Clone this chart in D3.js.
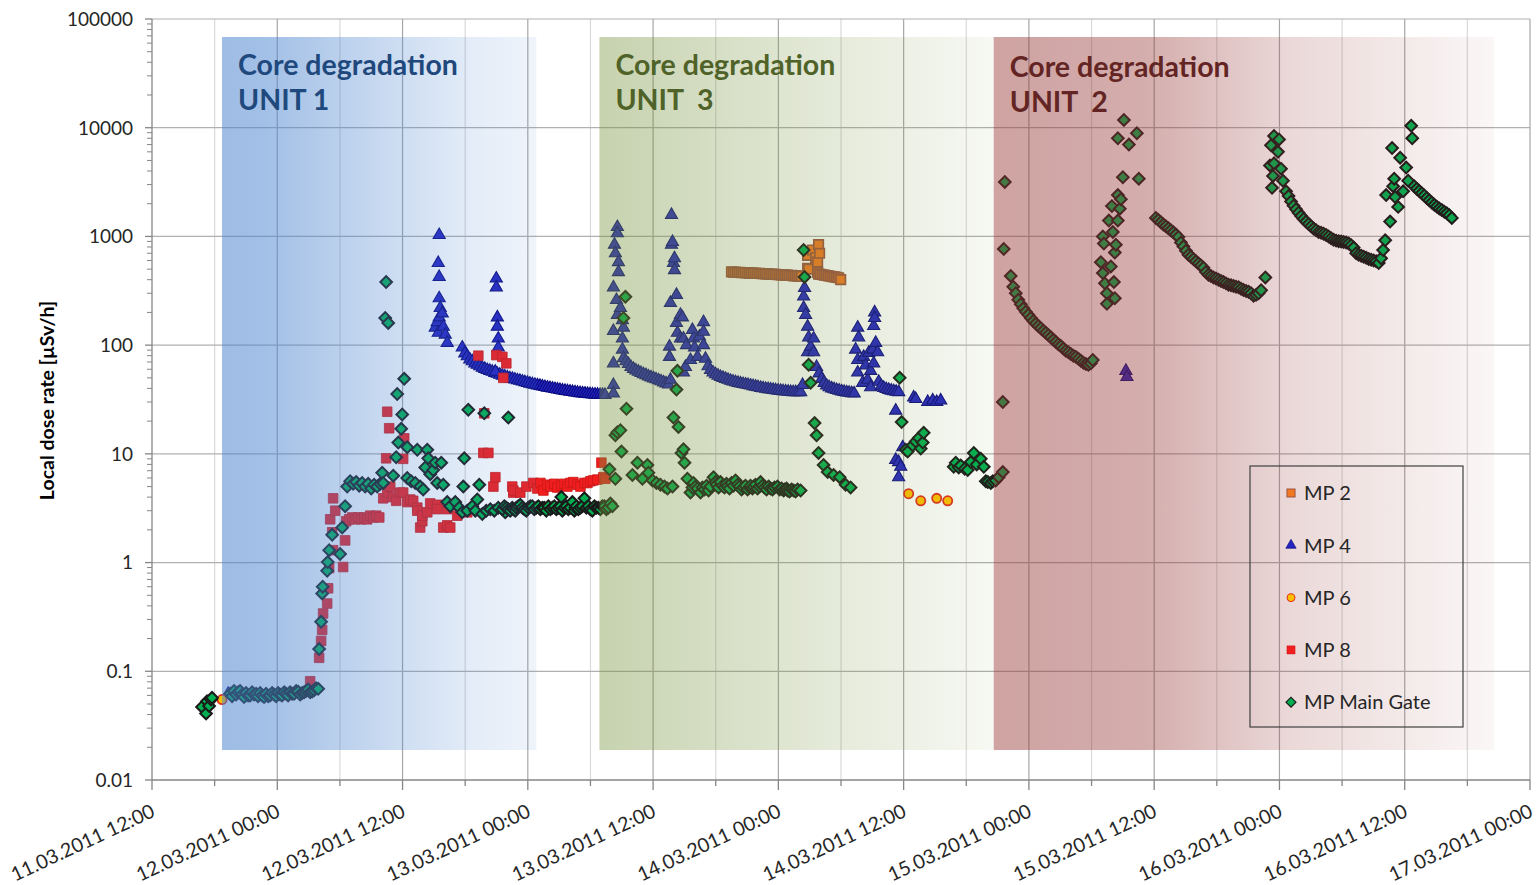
<!DOCTYPE html>
<html>
<head>
<meta charset="utf-8">
<script src="https://cdn.jsdelivr.net/npm/d3@7"></script>
<style>
  html, body { margin: 0; padding: 0; background: #ffffff; }
  svg { display: block; font-family: Lato, "Open Sans", sans-serif; }
</style>
</head>
<body>
<svg id="chart" width="1538" height="885"></svg>
<script>
// ---- Data: [hours after 11.03.2011 12:00 UTC, local dose rate in µSv/h] ----
const mp2 = [
  [55.51,472],[55.70,468],[55.89,470],[56.09,466],[56.28,468],[56.47,464],[56.66,466],[56.85,462],
  [57.05,464],[57.24,460],[57.43,462],[57.62,458],[57.81,460],[58.00,456],[58.20,458],[58.39,454],
  [58.58,455],[58.77,451],[58.96,453],[59.16,449],[59.35,450],[59.54,447],[59.73,448],[59.92,444],
  [60.12,446],[60.31,442],[60.50,443],[60.69,440],[60.88,441],[61.07,437],[61.27,438],[61.46,434],
  [61.65,436],[61.84,432],[62.03,433],[62.22,430],
  [62.80,670],[62.80,510],[62.90,500],[63.28,750],[63.57,640],[63.76,580],[63.76,470],[63.85,840],[63.95,700],
  [63.85,450],[64.04,447],[64.24,444],[64.43,440],[64.62,437],[64.81,434],[65.00,430],[65.20,427],
  [65.39,424],[65.58,420],[65.77,417],[65.97,400]
];

const mp4 = [
  [7.29,0.062],
  [27.13,145],[27.32,163],[27.42,130],[27.42,570],[27.51,1030],[27.51,424],[27.51,270],[27.51,180],
  [27.61,220],[27.80,196],[27.90,148],[28.09,125],[28.28,105],
  [29.72,95],[29.96,84],[30.20,79],[30.44,74],[30.68,71],[30.92,68],[31.16,66],[31.40,64],[31.64,62],
  [31.88,60.5],[32.12,59],[32.36,58],[32.60,57],[32.84,55.5],[33.08,54.5],[33.32,53.5],[33.56,52.5],
  [33.80,51.5],[34.04,50.5],[34.28,49.5],[34.52,49],[34.76,48.3],[35.00,47.5],[35.24,47],[35.48,46.3],
  [35.72,45.6],[35.96,45],[36.20,44.3],[36.44,43.7],[36.68,43.2],[36.92,42.7],[37.16,42.2],[37.40,41.7],
  [37.64,41.2],[37.88,40.7],[38.12,40.3],[38.36,39.9],[38.60,39.5],[38.84,39.1],[39.08,38.7],[39.32,38.3],
  [39.56,38],[39.80,37.7],[40.04,37.4],[40.28,37.1],[40.52,36.8],[40.76,36.5],[41.00,36.2],[41.24,36],
  [41.48,35.8],[41.72,35.6],[41.96,35.4],[42.20,35.2],[42.44,35.1],[42.68,35],[42.92,34.9],[43.16,34.9],
  [43.40,34.8],
  [32.89,57],[32.98,410],[32.98,340],[33.08,180],[33.08,148],[33.17,115],[33.17,95],
  [44.20,135],[44.20,68],[44.20,43],[44.20,36],[44.20,340],[44.30,840],[44.39,700],[44.49,260],
  [44.58,1220],[44.58,1070],[44.58,190],[44.68,580],[44.68,470],[44.87,220],[45.06,170],[45.06,115],
  [45.06,91],[45.16,145],
  [45.16,76],[45.40,71],[45.64,67],[45.88,63],[46.12,60.5],[46.36,58.5],[46.60,57],[46.84,55.5],
  [47.08,54],[47.32,53],[47.56,51.5],[47.80,50.5],[48.04,49.5],[48.28,48.5],[48.52,47.5],[48.76,46.5],
  [49.00,45.5],[49.24,44.5],[49.48,43.5],
  [49.57,97],[49.57,78],[49.66,245],[49.66,48],[49.76,1580],[49.76,840],[49.86,890],[49.95,570],
  [50.05,630],[50.05,490],[50.24,290],[50.24,160],[50.33,130],[50.62,190],[50.62,115],[50.81,180],
  [50.91,115],[50.91,56],[51.10,63],[51.20,100],[51.58,73],[51.77,138],[51.87,115],[51.97,95],
  [52.25,78],[52.45,120],[52.83,163],[52.83,133],[52.83,100],
  [53.02,75],[53.26,64],[53.50,59],[53.74,56],[53.98,54],[54.22,52.5],[54.46,51],[54.70,50],[54.94,49],
  [55.18,48],[55.42,47],[55.66,46.3],[55.90,45.6],[56.14,45],[56.38,44.4],[56.62,43.9],[56.86,43.4],
  [57.10,43],[57.34,42.5],[57.58,42],[57.82,41.5],[58.06,41],[58.30,40.5],[58.54,40.1],[58.78,39.7],
  [59.02,39.4],[59.26,39.1],[59.50,38.8],[59.74,38.5],[59.98,38.2],[60.22,38],[60.46,37.7],[60.70,37.5],
  [60.94,37.3],[61.18,37.1],[61.42,37],[61.66,37],[61.90,37],[62.14,37],[62.32,43],
  [62.42,280],[62.42,220],[62.51,336],[62.61,190],[62.80,148],[62.80,86],[62.90,118],[63.09,97],
  [63.38,115],[63.38,86],
  [63.66,63],[63.90,55],[64.14,49],[64.38,45],[64.62,42.5],[64.86,41],[65.10,40],[65.34,39.3],
  [65.58,38.7],[65.82,38.2],[66.06,37.6],[66.30,37.2],[66.54,36.8],[66.78,36.5],[67.02,36.2],[67.26,36],
  [67.40,91],[67.60,145],[67.60,73],[67.60,56],[67.69,118],[68.07,45],[68.17,78],[68.36,65],[68.55,48],
  [68.65,85],[68.84,58],[68.84,41],[69.03,91],[69.13,150],[69.13,68],[69.22,200],[69.22,178],
  [69.32,105],[69.51,86],
  [69.61,46],[69.85,42],[70.09,40.5],[70.33,39.5],[70.57,38.8],[70.81,38.2],[71.05,37.7],[71.29,37.3],
  [71.53,37],
  [71.24,25],[71.24,8.8],[71.52,8.4],[71.52,6.1],[71.72,7.6],[71.91,11.5],
  [72.96,33],[73.16,32],[74.31,30],[74.79,31],[75.17,30],[75.55,31],
  [93.29,58],[93.39,51]
];

const mp6 = [
  [6.71,0.055],[72.48,4.3],[73.64,3.7],[75.17,3.9],[76.22,3.7]
];

const mp8 = [
  [15.15,0.081],[16.01,0.133],[16.20,0.19],[16.30,0.24],[16.39,0.34],[16.78,0.42],[16.87,0.58],
  [16.97,0.89],[17.07,2.5],[17.26,1.9],[17.35,1.3],[17.35,3.9],[17.55,3.0],[18.31,0.91],[18.50,1.6],
  [18.60,2.4],[18.89,2.5],[19.18,2.6],[19.46,2.5],[19.75,2.6],[20.04,2.5],[20.33,2.6],[20.61,2.5],
  [20.90,2.7],[21.19,2.6],[21.48,2.7],[21.77,2.6],
  [22.15,3.9],[22.43,9.1],[22.53,24.4],[22.53,4.4],[22.72,17.2],[22.82,5.0],[23.11,4.0],[23.39,3.7],
  [23.78,4.4],[24.06,9.0],[24.06,4.4],[24.16,13.9],[24.45,3.6],[24.74,3.8],[25.02,3.7],[25.41,3.2],
  [25.41,3.0],[25.69,2.1],[25.89,2.4],[25.89,2.7],[26.37,2.9],[26.65,3.5],[27.32,3.4],[27.32,3.1],
  [27.90,2.1],[28.28,3.1],[28.28,2.2],[28.57,2.1],[29.24,2.7],[30.20,2.9],
  [31.26,80],[31.74,10.2],[31.83,23.6],[32.22,10.2],[32.70,5.0],[32.89,6.1],[32.98,81],[33.56,78],
  [33.65,50],[33.94,68],
  [34.51,5.0],[34.61,4.4],[34.61,4.6],[35.28,4.4],[35.86,5.0],[36.53,5.4],[36.91,4.8],[37.20,5.4],
  [37.49,4.6],[37.87,5.2],[38.16,5.0],[38.54,5.3],[38.83,4.9],[39.21,5.1],[39.50,5.3],[39.79,5.0],
  [40.07,5.4],[40.36,5.5],[40.75,5.2],[41.04,5.0],[41.42,5.4],[41.71,5.4],[41.99,5.6],[42.28,5.7],
  [42.66,5.8],[43.05,8.3],[43.24,6.1],[43.43,5.9]
];

const mpMainGate = [
  [4.79,0.047],[5.18,0.041],[5.27,0.053],[5.47,0.048],[5.66,0.055],[5.75,0.057],
  [7.48,0.062],[7.67,0.059],[7.86,0.066],[8.06,0.061],[8.25,0.064],[8.44,0.066],[8.63,0.061],[8.82,0.058],
  [9.01,0.063],[9.21,0.060],[9.40,0.060],[9.59,0.064],[9.78,0.061],[9.97,0.062],[10.16,0.059],
  [10.36,0.063],[10.55,0.060],[10.74,0.058],[10.93,0.062],[11.12,0.059],[11.31,0.060],[11.51,0.063],
  [11.70,0.061],[11.89,0.059],[12.08,0.063],[12.27,0.061],[12.46,0.060],[12.66,0.064],[12.85,0.062],
  [13.04,0.060],[13.23,0.064],[13.42,0.062],[13.61,0.062],[13.81,0.066],[14.00,0.065],[14.19,0.061],
  [14.38,0.063],[14.57,0.064],[14.76,0.066],[14.96,0.068],[15.15,0.064],[15.34,0.065],[15.53,0.067],
  [15.72,0.070],[15.92,0.069],
  [16.01,0.16],[16.20,0.285],[16.30,0.52],[16.35,0.6],[16.78,0.84],[16.83,1.01],[16.97,1.3],
  [17.26,1.8],[18.02,1.2],[18.22,2.1],[18.50,3.3],
  [18.70,5.0],[18.98,5.6],[19.27,5.3],[19.56,5.5],[19.85,5.1],[20.13,5.4],[20.42,5.0],[20.71,5.3],
  [21.00,4.8],[21.28,5.2],[21.57,5.0],[21.86,5.3],[22.05,6.7],[22.15,5.4],
  [22.34,178],[22.43,381],[22.63,160],
  [23.11,6.3],[23.39,9.3],[23.49,35.5],[23.59,12.7],[23.87,17],[23.97,23],[24.16,49],[24.45,11.5],
  [24.45,6.0],[24.83,5.6],[25.22,5.4],[25.41,10.9],[25.69,5.0],[25.98,4.7],[26.17,7.5],[26.37,10.9],
  [26.46,9.1],[26.65,6.5],[26.94,7.1],[27.13,8.3],[27.32,5.4],[27.71,8.3],[27.90,5.2],
  [28.28,3.6],[28.57,3.3],[29.05,3.6],[29.43,3.2],[29.72,2.9],[29.91,9.1],[29.82,5.0],[30.20,3.0],
  [30.30,25.4],[30.68,3.3],[30.97,3.0],[31.16,3.8],[31.35,5.2],[31.64,2.8],[31.83,23.6],[32.02,3.0],
  [32.41,3.1],[32.79,3.0],[33.17,3.2],[33.84,2.9],[34.13,21.6],
  [33.56,3.1],[33.75,3.3],[33.94,3.2],[34.13,3.1],[34.32,3.0],[34.51,3.2],[34.61,3.1],[34.80,3.0],
  [34.90,3.2],[35.09,3.3],[35.28,3.4],[35.48,3.2],[35.67,3.1],[35.86,3.0],[36.05,3.2],[36.24,3.3],
  [36.43,3.3],[36.62,3.1],[36.82,3.2],[37.01,3.3],[37.20,3.1],[37.39,3.2],[37.58,3.2],[37.77,3.0],
  [37.97,3.3],[38.16,3.1],[38.35,3.2],[38.54,3.3],[38.73,3.1],[38.92,3.2],[39.12,3.3],[39.21,4.0],
  [39.31,3.0],[39.50,3.2],[39.69,3.3],[39.88,3.1],[40.07,3.2],[40.27,3.6],[40.46,3.0],[40.56,3.2],
  [40.65,3.3],[40.84,3.1],[41.04,3.2],[41.23,3.3],[41.42,3.9],[41.61,3.2],[41.80,3.3],[41.99,3.1],
  [42.18,3.0],[42.38,3.3],[42.57,3.2],[42.76,3.2],[42.95,3.1],[43.14,3.3],[43.34,3.3],[43.53,3.1],
  [43.72,3.2],[43.91,3.5],
  [43.82,7.2],[44.10,3.3],[44.39,5.9],[44.39,14.8],[44.58,15.8],[44.87,16.5],[44.97,10.5],
  [45.16,178],[45.35,278],[45.45,26],[46.02,6.4],[46.50,8.3],[46.98,5.9],[47.46,7.9],[47.55,6.7],
  [47.94,5.7],[48.32,5.4],[48.70,5.2],[49.09,5.0],[49.38,4.8],[49.86,5.0],
  [49.95,21.6],[50.24,39],[50.33,58],[50.43,17.7],[50.72,10.2],[50.91,11],[51.01,8.3],
  [51.29,5.9],[51.58,4.4],[51.77,4.9],[51.87,5.4],[52.06,5.0],[52.25,4.8],[52.54,4.4],[52.73,4.9],
  [52.92,4.7],[53.12,5.1],[53.31,4.6],[53.50,5.0],[53.79,6.1],[53.98,5.5],[54.07,5.2],[54.27,4.9],
  [54.46,5.5],[54.65,5.1],[54.84,4.9],[55.03,5.3],[55.13,5.0],[55.32,4.8],[55.51,5.4],[55.70,5.1],
  [55.90,5.7],[56.09,5.2],[56.28,5.0],[56.47,4.7],[56.66,4.9],[56.85,5.1],[57.05,4.7],[57.24,4.9],
  [57.33,5.1],[57.52,4.8],[57.62,5.0],[57.81,5.2],[58.00,4.8],[58.20,5.0],[58.29,5.5],[58.48,5.1],
  [58.68,4.9],[58.87,4.7],[59.06,5.0],[59.25,4.8],[59.44,4.7],[59.63,4.9],[59.92,5.0],[60.12,4.7],
  [60.31,4.8],[60.50,4.6],[60.59,4.7],[60.79,4.8],[60.88,4.6],[61.07,4.5],[61.27,4.7],[61.46,4.6],
  [61.65,4.5],[61.84,4.7],[62.13,4.6],
  [62.42,750],[62.51,424],[62.90,66],[63.09,45],[63.47,19.2],[63.66,14.8],[63.85,10.2],[64.33,7.9],
  [64.72,6.8],[65.29,6.4],[65.87,6.1],[66.44,5.2],[66.92,4.9],
  [71.62,50],[71.81,19.6],[72.20,10.9],[72.39,10.5],[72.87,12],[73.16,13],[73.45,14],[73.64,11.2],
  [73.83,12.7],[73.92,15.6],
  [76.80,7.6],[76.99,8.3],[77.28,7.5],[77.47,7.8],[77.85,7.3],[78.14,7.1],[78.43,8.4],[78.72,10.2],
  [79.00,8.0],[79.39,9.0],[79.68,7.6],[79.87,5.6],[80.06,5.5],[80.35,5.4],[80.54,5.6],[80.82,5.7],
  [81.11,6.1],[81.50,6.8],[81.50,30],[81.59,768],[81.69,3170],
  [82.26,433],[82.50,345],[82.74,300],[82.98,262],[83.22,238],[83.46,218],[83.70,203],[83.94,190],
  [84.18,178],[84.42,167],[84.66,158],[84.90,150],[85.14,143],[85.38,136],[85.62,130],[85.86,124],
  [86.10,118],[86.34,112],[86.58,107],[86.82,102],[87.06,98],[87.30,93],[87.54,89],[87.78,86],
  [88.02,83],[88.26,80],[88.50,78],[88.74,75],[88.98,72],[89.22,69],[89.46,67],[89.70,66],
  [89.94,68],[90.12,73],
  [90.89,580],[91.08,1000],[91.08,460],[91.18,860],[91.28,370],[91.47,300],[91.47,240],[91.66,1400],
  [91.85,530],[91.95,1900],[92.04,1100],[92.14,380],[92.23,710],[92.23,270],[92.33,840],[92.52,8000],
  [92.52,2400],[92.52,1400],[92.71,1800],[92.81,2200],[93.00,3500],[93.10,11800],[93.58,7000],
  [94.34,8900],[94.53,3400],
  [96.16,1480],[96.40,1420],[96.64,1350],[96.88,1290],[97.12,1240],[97.36,1190],[97.60,1140],
  [97.84,1090],[98.08,1040],[98.32,990],[98.56,880],[98.80,810],[99.04,740],[99.28,680],[99.52,650],
  [99.76,620],[100.00,590],[100.24,565],[100.48,540],[100.72,515],[100.96,470],[101.20,445],
  [101.44,432],[101.68,420],[101.92,410],[102.16,400],[102.40,390],[102.64,380],[102.88,370],
  [103.12,360],[103.36,355],[103.60,350],[103.84,345],[104.08,340],[104.32,330],[104.56,322],
  [104.80,315],[105.04,310],[105.28,300],[105.52,285],[105.76,290],[106.00,300],[106.24,320],
  [106.65,420],
  [107.09,4500],[107.19,6900],[107.29,2800],[107.38,3600],[107.48,8400],[107.48,4700],[107.86,6000],
  [107.96,7800],[108.15,4200],[108.34,3250],
  [108.63,2600],[108.87,2350],[109.11,2100],[109.35,1920],[109.59,1780],[109.83,1650],[110.07,1540],
  [110.31,1450],[110.55,1370],[110.79,1300],[111.03,1240],[111.27,1180],[111.51,1140],[111.75,1100],
  [111.99,1080],[112.23,1060],[112.47,1030],[112.71,1000],[112.95,960],[113.19,930],[113.43,915],
  [113.67,905],[113.91,900],[114.15,890],[114.39,880],[114.63,860],[114.87,830],[115.11,790],
  [115.35,700],[115.59,680],[115.83,665],[116.07,650],[116.31,635],[116.55,620],[116.79,610],
  [117.03,600],[117.27,590],[117.51,570],[117.74,630],[117.93,750],[118.13,920],
  [118.22,2400],[118.60,1370],[118.79,6500],[118.89,2900],[118.99,3400],[119.08,2300],[119.37,1870],
  [119.56,5300],[119.85,2600],[120.14,4300],[120.33,3250],[120.62,10400],[120.72,8000],
  [120.91,2900],[121.15,2750],[121.39,2620],[121.63,2500],[121.87,2380],[122.11,2260],[122.35,2150],
  [122.59,2050],[122.83,1960],[123.07,1880],[123.31,1810],[123.55,1750],[123.79,1690],[124.03,1630],
  [124.27,1570],[124.51,1480]
];

// Shaded periods of core degradation: [start hour, end hour]
const bandSpans = [[6.71, 36.82], [42.86, 80.63], [80.63, 128.57]];
const bandTitles = [["Core degradation", "UNIT 1"], ["Core degradation", "UNIT  3"], ["Core degradation", "UNIT  2"]];

// Axis tick values and labels
const yTickValues = [0.01, 0.1, 1, 10, 100, 1000, 10000, 100000];
const yTickLabels = ["0.01", "0.1", "1", "10", "100", "1000", "10000", "100000"];
const xLabelStepHours = 12;
const xGridStepHours = 6;

const seriesNames = ["MP 2", "MP 4", "MP 6", "MP 8", "MP Main Gate"];

// ---- Layout ----
const W = 1538, H = 885;
const plot = { left: 152, right: 1530, top: 19, bottom: 780 };
const base = Date.UTC(2011, 2, 11, 12, 0);
const hourMs = 3600 * 1000;
const toDate = h => new Date(base + h * hourMs);

const x = d3.scaleUtc()
  .domain([toDate(0), toDate(132)])
  .range([plot.left, plot.right]);
const y = d3.scaleLog()
  .domain([0.01, 100000])
  .range([plot.bottom, plot.top]);

const svg = d3.select("#chart");
svg.append("rect").attr("width", W).attr("height", H).attr("fill", "#ffffff");

// ---- Gridlines ----
const grid = svg.append("g");
const gridTimes = d3.utcHour.every(xGridStepHours).range(toDate(xGridStepHours), toDate(132.01));
grid.selectAll("line.v").data(gridTimes).join("line")
  .attr("x1", d => x(d)).attr("x2", d => x(d))
  .attr("y1", plot.top).attr("y2", plot.bottom)
  .attr("stroke", d => (d.getUTCHours() % 12 === 0) ? "#a6a6a6" : "#d9d9d9")
  .attr("stroke-width", 1.2);
grid.selectAll("line.h").data(yTickValues.slice(1)).join("line")
  .attr("x1", plot.left).attr("x2", plot.right)
  .attr("y1", d => y(d)).attr("y2", d => y(d))
  .attr("stroke", "#b0b0b0").attr("stroke-width", 1.2);

// ---- Y axis ----
const axisColor = "#868686";
const yAxis = svg.append("g");
yAxis.append("line")
  .attr("x1", plot.left).attr("x2", plot.left)
  .attr("y1", plot.top).attr("y2", plot.bottom)
  .attr("stroke", axisColor).attr("stroke-width", 1.3);
const minorY = [];
yTickValues.slice(0, -1).forEach(dec => { for (let k = 2; k <= 9; k++) minorY.push(dec * k); });
yAxis.selectAll("line.minor").data(minorY).join("line")
  .attr("x1", plot.left - 5).attr("x2", plot.left)
  .attr("y1", d => y(d)).attr("y2", d => y(d))
  .attr("stroke", axisColor).attr("stroke-width", 1);
yAxis.selectAll("line.major").data(yTickValues).join("line")
  .attr("x1", plot.left - 7).attr("x2", plot.left)
  .attr("y1", d => y(d)).attr("y2", d => y(d))
  .attr("stroke", axisColor).attr("stroke-width", 1.3);
yAxis.selectAll("text").data(yTickValues).join("text")
  .attr("x", plot.left - 19).attr("y", d => y(d))
  .attr("dy", "0.36em")
  .attr("text-anchor", "end")
  .attr("font-size", 19).attr("fill", "#262626")
  .text((d, i) => yTickLabels[i]);

svg.append("text")
  .attr("transform", `translate(54, ${(plot.top + plot.bottom) / 2 + 1}) rotate(-90)`)
  .attr("text-anchor", "middle")
  .attr("font-size", 19.5).attr("font-weight", "bold").attr("fill", "#000000")
  .text("Local dose rate [µSv/h]");

// ---- X axis ----
const xAxis = svg.append("g");
xAxis.append("line")
  .attr("x1", plot.left).attr("x2", plot.right)
  .attr("y1", plot.bottom).attr("y2", plot.bottom)
  .attr("stroke", axisColor).attr("stroke-width", 1.3);
const tickTimes = d3.utcHour.every(xGridStepHours).range(toDate(0), toDate(132.01));
xAxis.selectAll("line.tick").data(tickTimes).join("line")
  .attr("x1", d => x(d)).attr("x2", d => x(d))
  .attr("y1", plot.bottom)
  .attr("y2", d => plot.bottom + ((d.getUTCHours() % xLabelStepHours === 0) ? 10 : 6))
  .attr("stroke", axisColor).attr("stroke-width", 1.3);
const fmt = d3.utcFormat("%d.%m.%Y %H:%M");
const labelTimes = d3.utcHour.every(xLabelStepHours).range(toDate(0), toDate(132.01));
xAxis.selectAll("text").data(labelTimes).join("text")
  .attr("transform", d => `translate(${x(d) + 4}, ${plot.bottom + 36}) rotate(-25)`)
  .attr("text-anchor", "end")
  .attr("font-size", 19.6).attr("fill", "#262626")
  .text(d => fmt(d));

// ---- Markers ----
const sq = s => d3.symbol().type(d3.symbolSquare).size(s)();
const styles = {
  "MP 2": { path: sq(90), rot: 0, fill: "#f07823", stroke: "#9c5540", sw: 1.7 },
  "MP 4": { path: d3.symbol().type(d3.symbolTriangle).size(64)(), rot: 0, fill: "#2424c0", stroke: "#0a0a80", sw: 1.1 },
  "MP 6": { path: d3.symbol().type(d3.symbolCircle).size(66)(), rot: 0, fill: "#ffc000", stroke: "#e0301e", sw: 1.8 },
  "MP 8": { path: sq(92), rot: 0, fill: "#f01e1e", stroke: "#cc1818", sw: 0.8 },
  "MP Main Gate": { path: sq(68), rot: 45, fill: "#00b050", stroke: "#1a1a1a", sw: 2 }
};
const seriesData = [mp2, mp4, mp6, mp8, mpMainGate];

const marks = svg.append("g");
seriesData.forEach((data, i) => {
  const st = styles[seriesNames[i]];
  marks.append("g").selectAll("path").data(data).join("path")
    .attr("d", st.path)
    .attr("transform", d => `translate(${x(toDate(d[0]))}, ${y(d[1])}) rotate(${st.rot})`)
    .attr("fill", st.fill)
    .attr("stroke", st.stroke)
    .attr("stroke-width", st.sw);
});

// ---- Shaded bands (translucent gradients drawn over the data) ----
const defs = svg.append("defs");
const bandStyles = [
  { color: "#4b84cf", stops: [[0, 0.54], [0.15, 0.51], [0.5, 0.31], [0.8, 0.15], [1, 0.09]], text: "#1f497d" },
  { color: "#76923c", stops: [[0, 0.41], [0.3, 0.3], [0.6, 0.19], [1, 0.06]], text: "#4f6228" },
  { color: "#953735", stops: [[0, 0.46], [0.3, 0.41], [0.6, 0.19], [1, 0.04]], text: "#632523" }
];
const bandTop = 37, bandBottom = 750;
bandSpans.forEach((span, i) => {
  const bs = bandStyles[i];
  const grad = defs.append("linearGradient").attr("id", "band" + i)
    .attr("x1", "0%").attr("x2", "100%").attr("y1", "0%").attr("y2", "0%");
  bs.stops.forEach(s => grad.append("stop")
    .attr("offset", (s[0] * 100) + "%")
    .attr("stop-color", bs.color)
    .attr("stop-opacity", s[1]));
  const x0 = x(toDate(span[0])), x1 = x(toDate(span[1]));
  svg.append("rect")
    .attr("x", x0).attr("y", bandTop)
    .attr("width", x1 - x0).attr("height", bandBottom - bandTop)
    .attr("fill", `url(#band${i})`);
  const ty = i === 2 ? 77 : 75;
  const t = svg.append("text")
    .attr("font-size", 28.5).attr("font-weight", "bold").attr("fill", bs.text);
  t.append("tspan").attr("x", x0 + 16).attr("y", ty).text(bandTitles[i][0]);
  t.append("tspan").attr("x", x0 + 16).attr("y", ty + 35)
    .style("white-space", "pre").text(bandTitles[i][1]);
});

// ---- Legend ----
const lg = svg.append("g").attr("transform", "translate(1250, 466)");
lg.append("rect").attr("width", 213).attr("height", 261)
  .attr("fill", "none").attr("stroke", "#404040").attr("stroke-width", 1.2);
seriesNames.forEach((name, i) => {
  const st = styles[name];
  const cy = 27 + i * 52.3;
  lg.append("path").attr("d", st.path)
    .attr("transform", `translate(41, ${cy}) rotate(${st.rot}) scale(0.85)`)
    .attr("fill", st.fill).attr("stroke", st.stroke).attr("stroke-width", st.sw * 0.7);
  lg.append("text").attr("x", 54).attr("y", cy).attr("dy", "0.36em")
    .attr("font-size", 20).attr("fill", "#262626").text(name);
});
</script>
</body>
</html>
